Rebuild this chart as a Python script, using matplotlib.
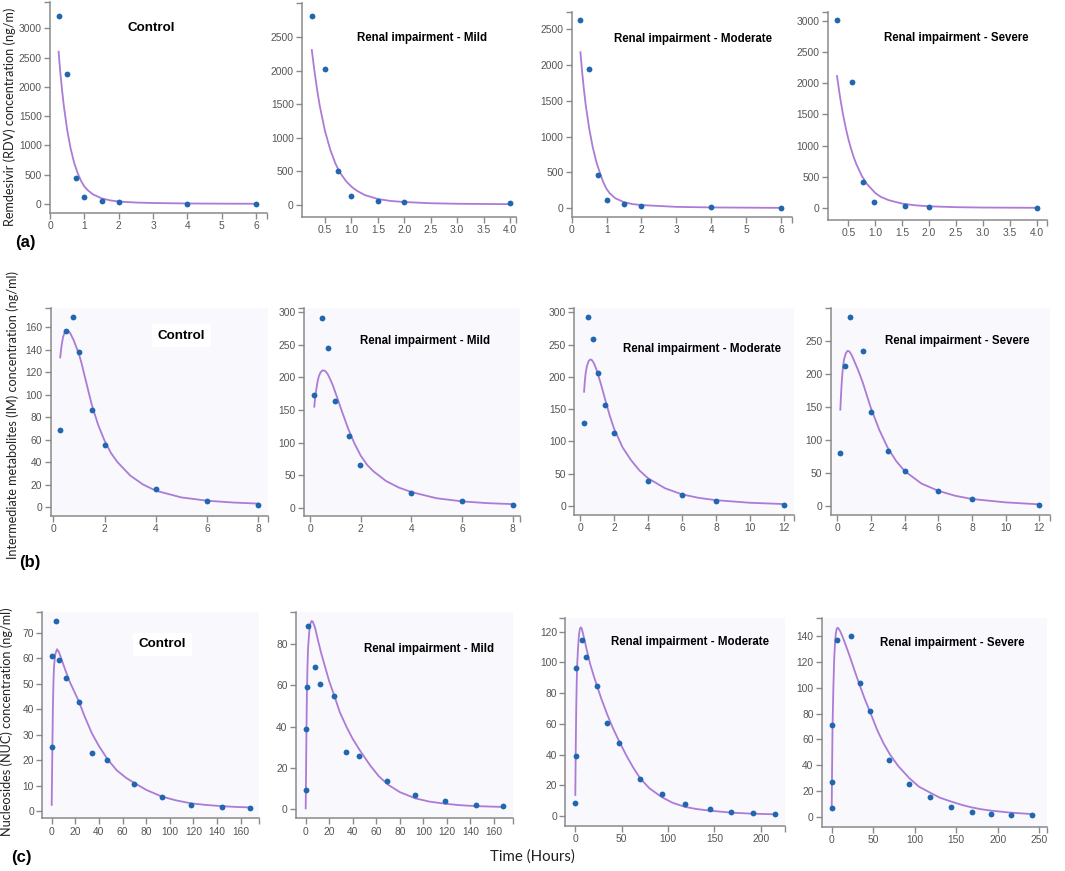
import matplotlib
matplotlib.use("Agg")
import matplotlib.pyplot as plt
from matplotlib.ticker import FixedLocator, FormatStrFormatter

# ---------------- data ----------------
titles = ["Control", "Renal impairment - Mild", "Renal impairment - Moderate", "Renal impairment - Severe"]

# Row (a): Remdesivir (RDV)
a1_t = [0.25, 0.5, 0.75, 1.0, 1.5, 2.0, 4.0, 6.0]
a1_c = [3210, 2220, 450, 125, 57, 28, 5, 3]
a1_ft = [0.25, 0.3, 0.35, 0.4, 0.5, 0.6, 0.7, 0.8, 0.9, 1.0, 1.1, 1.25, 1.5, 1.75, 2.0, 2.5, 3.0, 4.0, 5.0, 6.0]
a1_fc = [2600, 2250, 1950, 1690, 1265, 950, 710, 535, 400, 300, 235, 165, 97, 62, 42, 25, 17, 9, 6, 4]

a2_t = [0.25, 0.5, 0.75, 1.0, 1.5, 2.0, 4.0]
a2_c = [2820, 2022, 503, 130, 60, 40, 20]
a2_ft = [0.25, 0.3, 0.35, 0.4, 0.5, 0.6, 0.7, 0.75, 0.8, 0.9, 1.0, 1.1, 1.25, 1.5, 1.75, 2.0, 2.5, 3.0, 4.0]
a2_fc = [2310, 2000, 1720, 1480, 1100, 820, 610, 530, 460, 350, 270, 210, 145, 85, 55, 40, 22, 14, 8]

a3_t = [0.25, 0.5, 0.75, 1.0, 1.5, 2.0, 4.0, 6.0]
a3_c = [2630, 1950, 465, 121, 56, 33, 14, 9]
a3_ft = [0.25, 0.3, 0.35, 0.4, 0.5, 0.6, 0.7, 0.75, 0.8, 0.9, 1.0, 1.1, 1.25, 1.5, 1.75, 2.0, 3.0, 4.0, 6.0]
a3_fc = [2180, 1900, 1660, 1450, 1120, 860, 660, 580, 510, 370, 270, 205, 140, 85, 58, 45, 20, 12, 6]

a4_t = [0.29, 0.56, 0.78, 0.98, 1.55, 2.0, 4.0]
a4_c = [3010, 2020, 426, 101, 43, 27, 11]
a4_ft = [0.29, 0.35, 0.4, 0.45, 0.5, 0.55, 0.6, 0.65, 0.75, 0.85, 1.0, 1.1, 1.25, 1.5, 1.75, 2.0, 2.5, 3.0, 4.0]
a4_fc = [2115, 1760, 1510, 1295, 1110, 955, 820, 705, 520, 385, 245, 185, 130, 75, 47, 32, 18, 12, 8]

# Row (b): Intermediate metabolites (IM)
b1_t = [0.27, 0.5, 0.75, 1.0, 1.5, 2.0, 4.0, 6.0, 8.0]
b1_c = [68.4, 156.7, 168.6, 138, 86, 54.8, 16, 5.6, 1.8]
b1_ft = [0.27, 0.32, 0.38, 0.45, 0.55, 0.65, 0.8, 0.9, 1.0, 1.1, 1.25, 1.5, 1.75, 2.0, 2.25, 2.5, 3.0, 3.5, 4.0, 5.0, 6.0, 7.0, 8.0]
b1_fc = [133, 143, 151, 155.5, 157, 155, 148, 142, 136, 128, 114, 91, 73, 59, 48, 40, 28, 20, 14.5, 8.5, 5.6, 4, 3]

b2_t = [0.17, 0.46, 0.72, 1.0, 1.54, 1.96, 4.0, 6.0, 8.0]
b2_c = [172.5, 292, 245, 164, 110.6, 65.5, 23, 9.7, 4.6]
b2_ft = [0.17, 0.2, 0.25, 0.3, 0.35, 0.42, 0.5, 0.6, 0.7, 0.8, 0.9, 1.0, 1.1, 1.25, 1.5, 1.75, 2.0, 2.25, 2.5, 3.0, 3.5, 4.0, 5.0, 6.0, 7.0, 8.0]
b2_fc = [155, 168, 182, 194, 202, 208, 211, 210, 205, 197, 188, 177, 166, 149, 122, 99, 80, 66, 56, 41, 31, 24, 14.5, 9.7, 7, 5.5]

b3_t = [0.22, 0.45, 0.75, 1.04, 1.47, 1.98, 4.0, 6.0, 8.0, 12.0]
b3_c = [128, 292.7, 258, 206.5, 156, 113.6, 39, 17, 8.3, 2]
b3_ft = [0.24, 0.28, 0.33, 0.4, 0.5, 0.6, 0.7, 0.8, 0.9, 1.0, 1.25, 1.5, 1.75, 2.0, 2.5, 3.0, 3.5, 4.0, 5.0, 6.0, 7.0, 8.0, 10.0, 12.0]
b3_fc = [177, 192, 205, 216, 224, 227, 226, 222, 216, 209, 187, 163, 140, 120, 91, 71, 55, 43, 27.5, 18, 12.5, 9, 5, 3]

b4_t = [0.18, 0.48, 0.77, 1.52, 1.98, 2.99, 4.02, 5.96, 8.02, 12.0]
b4_c = [79.8, 211.6, 286, 234.8, 142.4, 83.8, 52.5, 22.2, 11, 2]
b4_ft = [0.18, 0.22, 0.27, 0.33, 0.4, 0.5, 0.6, 0.7, 0.8, 0.9, 1.0, 1.25, 1.5, 1.75, 2.0, 2.5, 3.0, 3.5, 4.0, 5.0, 6.0, 7.0, 8.0, 10.0, 12.0]
b4_fc = [146, 168, 190, 209, 222, 231, 235, 234.5, 231, 226, 220, 205, 188, 168, 148, 115, 88, 68, 53, 34, 23, 15.5, 10.6, 5.5, 2.5]

# Row (c): Nucleosides (NUC)
c1_t = [0, 0.5, 3.5, 6, 12, 23, 34, 47, 70, 93, 118, 144, 168]
c1_c = [25.3, 61, 74.4, 59.4, 52.3, 42.8, 22.9, 20.1, 10.5, 5.4, 2.2, 1.4, 1.2]
c1_ft = [0, 0.5, 1, 1.5, 2, 3, 4.5, 6, 8, 11, 15, 19, 23, 28, 34, 40, 47, 55, 63, 70, 80, 93, 105, 118, 130, 144, 156, 168]
c1_fc = [2.4, 22, 40, 51, 57, 61.5, 63.5, 62.5, 60, 56, 51, 47, 43, 37, 30.5, 25.5, 20.5, 16, 13, 11, 8.3, 5.7, 4.2, 3, 2.4, 1.9, 1.6, 1.4]

c2_t = [0, 0.5, 1, 2, 8, 12.5, 24, 34.5, 45.5, 69.5, 93, 118.5, 144.5, 168]
c2_c = [9.1, 38.7, 59.4, 88.9, 69.1, 60.9, 54.9, 27.9, 25.7, 13.4, 6.8, 4.0, 1.9, 1.3]
c2_ft = [0, 0.5, 1, 1.5, 2, 3, 4, 5, 6, 8, 10, 13, 16, 20, 24, 29, 35, 40, 46, 55, 62, 70, 80, 93, 105, 118, 130, 144, 168]
c2_fc = [0.3, 30, 55, 69, 78, 86, 90, 91.3, 91, 88, 83, 76, 70, 62, 55.5, 47, 39.5, 34, 28.5, 21, 16, 11.8, 8.2, 5.2, 3.6, 2.6, 1.9, 1.4, 1.0]

c3_t = [0, 0.5, 1, 6.8, 12, 23, 34.5, 46.8, 69.4, 93.5, 118.3, 145.7, 168.3, 191.4, 215.8]
c3_c = [8.2, 38.8, 96.1, 114.6, 103.5, 84.6, 60.8, 47.3, 24.1, 14.5, 7.6, 4.3, 2.4, 1.7, 1.3]
c3_ft = [0, 0.5, 1, 1.5, 2, 3, 4, 5, 6, 7, 8, 10, 12, 16, 20, 23, 28, 34.5, 40, 47, 55, 62, 70, 80, 93.5, 105, 118, 130, 145, 168, 191, 216]
c3_fc = [13.7, 45, 70, 86, 98, 110, 118, 122, 122.8, 122, 119.5, 114.5, 109, 99, 91, 85.5, 76.5, 66, 58, 49, 39.5, 32, 24.5, 18, 12.2, 8.6, 6, 4.6, 3.5, 2.2, 1.5, 1.1]

c4_t = [0, 0, 0.8, 6.8, 23.7, 33.7, 46.1, 69.4, 93.5, 118, 144, 168.5, 192.2, 215.5, 240.8]
c4_c = [6.7, 71.2, 26.8, 136.6, 140, 103.4, 82.2, 43.8, 25.8, 15.5, 7.5, 3.6, 2.1, 1.5, 1.5]
c4_ft = [0, 0.5, 1, 2, 3, 4, 5, 6, 7, 8, 10, 13, 16, 20, 24, 29, 34, 40, 46, 55, 62, 70, 80, 93.5, 105, 118, 130, 144, 156, 168, 180, 192, 215, 240]
c4_fc = [5.4, 40, 70, 100, 122, 135, 142, 145.5, 146.4, 146, 144, 139.5, 134.5, 127.5, 120, 110.5, 101.5, 91, 81.5, 67, 57.5, 48.5, 39.5, 30, 23.5, 19, 15, 11.9, 9.5, 7.5, 6, 4.9, 3.4, 2.3]

# tick values
a_xticks = [[0, 1, 2, 3, 4, 5, 6], [0.5, 1.0, 1.5, 2.0, 2.5, 3.0, 3.5, 4.0],
            [0, 1, 2, 3, 4, 5, 6], [0.5, 1.0, 1.5, 2.0, 2.5, 3.0, 3.5, 4.0]]
a_yticks = [[0, 500, 1000, 1500, 2000, 2500, 3000], [0, 500, 1000, 1500, 2000, 2500],
            [0, 500, 1000, 1500, 2000, 2500], [0, 500, 1000, 1500, 2000, 2500, 3000]]
b_xticks = [[0, 2, 4, 6, 8], [0, 2, 4, 6, 8], [0, 2, 4, 6, 8, 10, 12], [0, 2, 4, 6, 8, 10, 12]]
b_yticks = [[0, 20, 40, 60, 80, 100, 120, 140, 160], [0, 50, 100, 150, 200, 250, 300],
            [0, 50, 100, 150, 200, 250, 300], [0, 50, 100, 150, 200, 250]]
c_xticks = [[0, 20, 40, 60, 80, 100, 120, 140, 160], [0, 20, 40, 60, 80, 100, 120, 140, 160],
            [0, 50, 100, 150, 200], [0, 50, 100, 150, 200, 250]]
c_yticks = [[0, 10, 20, 30, 40, 50, 60, 70], [0, 20, 40, 60, 80],
            [0, 20, 40, 60, 80, 100, 120], [0, 20, 40, 60, 80, 100, 120, 140]]

ylab_a = "Remdesivir (RDV) concentration (ng/m)"
ylab_b = "Intermediate metabolites (IM) concentration (ng/ml)"
ylab_c = "Nucleosides (NUC) concentration (ng/ml)"
xlab = "Time (Hours)"

# ---------------- style ----------------
W, H = 1065, 871
plt.rcParams["font.family"] = ["Liberation Sans", "DejaVu Sans"]
DOT = "#2067b0"
LINE = "#ab7bd6"
BG = "#f8f8fd"
SPINE = "#8a8a8a"
TICKLAB = "#555555"

fig = plt.figure(figsize=(W / 100, H / 100), dpi=100)

# panel geometry in pixels: (left, right, top, bottom), x calibration, y calibration
geo = {
    "a1": ((50, 267, 2, 213), ((0, 50), (6, 256)), ((0, 204), (3000, 28.3))),
    "a2": ((302, 516, 3, 217), ((0.5, 325), (4.0, 510)), ((0, 204.7), (2500, 37.3))),
    "a3": ((571.7, 791.7, 11.7, 217), ((0, 571.7), (6, 781)), ((0, 208.3), (2500, 29.3))),
    "a4": ((827.7, 1046.7, 11.7, 220), ((0.5, 848.3), (4.0, 1036.7)), ((0, 208.3), (3000, 20.7))),
    "b1": ((50.7, 268.3, 308.3, 516), ((0, 53.3), (8, 258.3)), ((0, 507), (160, 327))),
    "b2": ((304, 520, 308.3, 516), ((0, 310), (8, 512.7)), ((0, 507.7), (300, 312.3))),
    "b3": ((574.3, 794, 308.3, 515), ((0, 580), (12, 784)), ((0, 506), (300, 312.3))),
    "b4": ((830.7, 1050, 308.3, 515), ((0, 837.3), (12, 1039.3)), ((0, 506), (250, 341))),
    "c1": ((42.3, 259.3, 611.7, 818.3), ((0, 51.7), (160, 240.7)), ((0, 811), (70, 632.7))),
    "c2": ((296, 513.3, 611.7, 818.3), ((0, 305.7), (160, 494)), ((0, 809), (80, 644.3))),
    "c3": ((565.3, 785.3, 618.3, 825.7), ((0, 575.3), (200, 760.7)), ((0, 816), (120, 631.7))),
    "c4": ((822, 1046.7, 618.3, 826.7), ((0, 831.7), (250, 1039.3)), ((0, 817), (140, 636))),
}


def make_axes(key, bg):
    (l, r, t, b), ((xv0, xp0), (xv1, xp1)), ((yv0, yp0), (yv1, yp1)) = geo[key]
    ax = fig.add_axes([l / W, 1 - b / H, (r - l) / W, (b - t) / H])
    sx = (xv1 - xv0) / (xp1 - xp0)
    sy = (yv1 - yv0) / (yp1 - yp0)
    x0, x1 = xv0 + (l - xp0) * sx, xv0 + (r - xp0) * sx
    y0, y1 = yv0 + (b - yp0) * sy, yv0 + (t - yp0) * sy
    ax.set_xlim(x0, x1)
    ax.set_ylim(y0, y1)
    ax.set_facecolor(bg)
    for s in ("top", "right"):
        ax.spines[s].set_visible(False)
    for s in ("left", "bottom"):
        ax.spines[s].set_color(SPINE)
        ax.spines[s].set_linewidth(1.1)
    ax.tick_params(which="both", direction="out", length=4, width=1.0, color=SPINE,
                   labelsize=7.4, labelcolor=TICKLAB, pad=2)
    # d3-style outer ticks at the domain ends
    ax.xaxis.set_minor_locator(FixedLocator([x1]))
    ax.yaxis.set_minor_locator(FixedLocator([y1]))
    return ax


def panel(key, t, c, ft, fc, xt, yt, bg, xfmt=None):
    ax = make_axes(key, bg)
    ax.plot(ft, fc, color=LINE, lw=1.3, zorder=2, solid_joinstyle="round")
    ax.plot(t, c, "o", color=DOT, ms=4.2, mec="none", zorder=3)
    ax.xaxis.set_major_locator(FixedLocator(xt))
    ax.yaxis.set_major_locator(FixedLocator(yt))
    if xfmt:
        ax.xaxis.set_major_formatter(FormatStrFormatter(xfmt))
    return ax


panel("a1", a1_t, a1_c, a1_ft, a1_fc, a_xticks[0], a_yticks[0], "white")
panel("a2", a2_t, a2_c, a2_ft, a2_fc, a_xticks[1], a_yticks[1], "white", "%.1f")
panel("a3", a3_t, a3_c, a3_ft, a3_fc, a_xticks[2], a_yticks[2], "white")
panel("a4", a4_t, a4_c, a4_ft, a4_fc, a_xticks[3], a_yticks[3], "white", "%.1f")

panel("b1", b1_t, b1_c, b1_ft, b1_fc, b_xticks[0], b_yticks[0], BG)
panel("b2", b2_t, b2_c, b2_ft, b2_fc, b_xticks[1], b_yticks[1], BG)
panel("b3", b3_t, b3_c, b3_ft, b3_fc, b_xticks[2], b_yticks[2], BG)
panel("b4", b4_t, b4_c, b4_ft, b4_fc, b_xticks[3], b_yticks[3], BG)

panel("c1", c1_t, c1_c, c1_ft, c1_fc, c_xticks[0], c_yticks[0], BG)
panel("c2", c2_t, c2_c, c2_ft, c2_fc, c_xticks[1], c_yticks[1], BG)
panel("c3", c3_t, c3_c, c3_ft, c3_fc, c_xticks[2], c_yticks[2], BG)
panel("c4", c4_t, c4_c, c4_ft, c4_fc, c_xticks[3], c_yticks[3], BG)


def ftext(x, y, s, **kw):
    return fig.text(x / W, 1 - y / H, s, ha="center", va="center", **kw)


# panel titles (pixel centres)
title_pos = {
    "a": [(151, 28.3), (421.7, 38.3), (693.3, 39.3), (956.7, 38.3)],
    "b": [(181.5, 335.7), (424.7, 340.7), (701.7, 348.7), (957.7, 340.7)],
    "c": [(162.7, 644.3), (428.7, 649.3), (690, 642.3), (952.7, 643)],
}
for row in ("a", "b", "c"):
    for i, (x, y) in enumerate(title_pos[row]):
        if i == 0:
            kw = dict(fontsize=9.6, fontweight="bold")
            if row != "a":
                kw["bbox"] = dict(facecolor="white", edgecolor="none", pad=4)
        else:
            kw = dict(fontsize=8.3, fontweight="bold")
        ftext(x, y, titles[i], color="black", **kw)

# axis labels and panel letters
lab_font = ["Lato", "DejaVu Sans"]
ftext(10, 116.5, ylab_a, rotation=90, fontsize=9.05, family=lab_font, color="#222222")
ftext(13, 415, ylab_b, rotation=90, fontsize=9.05, family=lab_font, color="#222222")
ftext(7, 722, ylab_c, rotation=90, fontsize=9.05, family=lab_font, color="#222222")
ftext(532, 857, xlab, fontsize=10.8, family=lab_font, color="#222222")

ftext(25, 242, "(a)", fontsize=12, fontweight="bold")
ftext(30, 562, "(b)", fontsize=12, fontweight="bold")
ftext(21, 857, "(c)", fontsize=12, fontweight="bold")

fig.savefig("out.png", dpi=100)
